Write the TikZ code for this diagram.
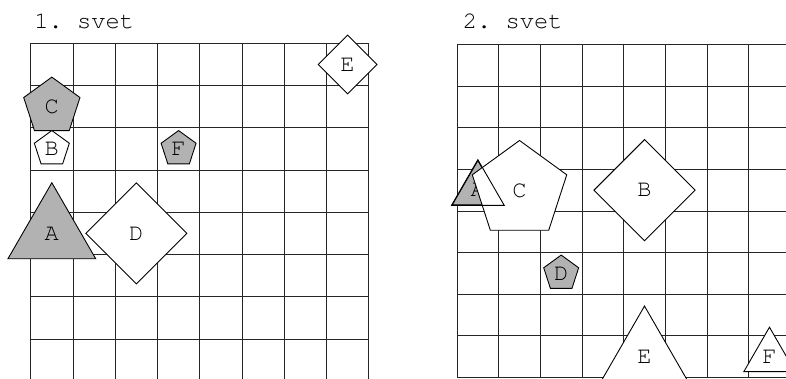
\documentclass[tikz,border=0pt]{standalone}
\usepackage[T1]{fontenc}
\usepackage{courier}
\renewcommand{\familydefault}{\ttdefault}
\frenchspacing
\usetikzlibrary{shapes.geometric}

\begin{document}
\begin{tikzpicture}[
    cell/.style={line width=0.6pt, black!85},
    worldname/.style={anchor=base west, inner sep=0pt, font=\fontsize{16}{18}\selectfont},
    obj/.style={draw, line width=0.6pt, fill=white, inner sep=0pt, font=\fontsize{16}{18}\selectfont},
    dark/.style={fill=black!30},
    pent/.style={obj, regular polygon, regular polygon sides=5, minimum size=#1},
    tri/.style={obj, regular polygon, regular polygon sides=3, minimum size=#1},
    romb/.style={obj, diamond, shape aspect=1, minimum width=#1, minimum height=#1}
]
\useasboundingbox (-0.727,0.078) rectangle (17.876,9.025);
\clip (-0.727,0.078) rectangle (17.876,9.025);

% 1. svet
\draw[cell] (0,0) grid (8,8);
\node[worldname] (t1) at (0.08,8.34) {1. svet};
\node[pent=1.4cm, dark] (c1) at (0.5,6.5) {C};
\node[pent=0.87cm] (b1) at (0.5,5.5) {B};
\node[pent=0.87cm, dark] (f1) at (3.5,5.5) {F};
\node[tri=2.4cm, dark] (a1) at (0.5,3.5) {A};
\node[romb=2.4cm] (d1) at (2.5,3.5) {D};
\node[romb=1.4cm] (e1) at (7.5,7.5) {E};

% 2. svet
\node[worldname] (t2) at (10.22,8.34) {2. svet};
\begin{scope}[shift={(10.09,0.088)}, scale=0.986]
\draw[cell] (0,0) grid (8,8);
\node[tri=1.4cm, dark] (a2) at (0.5,4.5) {A};
\node[pent=2.35cm] (c2) at (1.5,4.5) {C};
\draw[line width=0.6pt] (a2.corner 1) -- (a2.corner 2) -- (a2.corner 3) -- cycle;
\node[romb=2.4cm] (b2) at (4.5,4.5) {B};
\node[pent=0.87cm, dark] (d2) at (2.5,2.5) {D};
\node[tri=2.4cm] (e2) at (4.5,0.5) {E};
\node[tri=1.4cm] (f2) at (7.5,0.5) {F};
\end{scope}
\end{tikzpicture}
\end{document}
